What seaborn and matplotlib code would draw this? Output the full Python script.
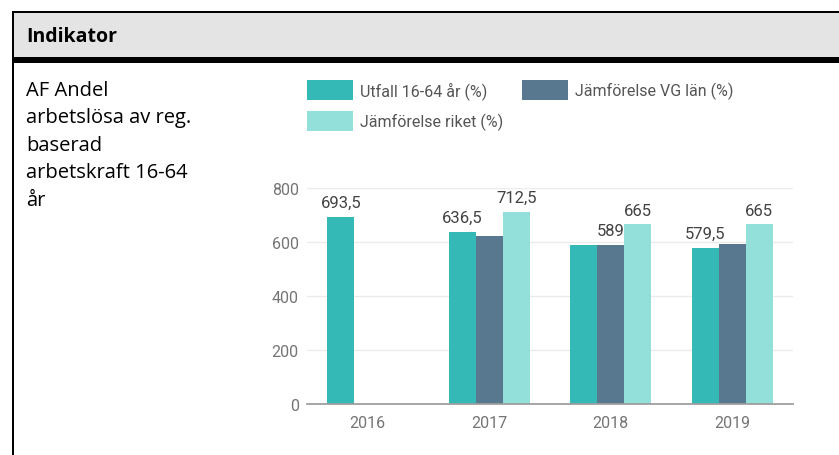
import matplotlib.pyplot as plt
import matplotlib.patches as mpatches
import pandas as pd
import seaborn as sns

years = ["2016", "2017", "2018", "2019"]
series = ["Utfall 16-64 år (%)", "Jämförelse VG län (%)", "Jämförelse riket (%)"]
utfall = [693.5, 636.5, 588, 579.5]
vg_lan = [None, 621, 589, 591]
riket = [None, 712.5, 665, 665]
# labels that are actually printed in the original (others hidden by overlap)
shown = {
    series[0]: [True, True, False, True],
    series[1]: [False, False, True, False],
    series[2]: [False, True, True, True],
}
colors = ["#34b9b7", "#57788f", "#93e0db"]
row_label = "AF Andel\narbetslösa av reg.\nbaserad\narbetskraft 16-64\når"

rows = []
for name, vals in zip(series, [utfall, vg_lan, riket]):
    for year, v in zip(years, vals):
        if v is not None:
            rows.append({"year": year, "value": v, "serie": name})
df = pd.DataFrame(rows)

sns.set_style("white")
plt.rcParams["font.family"] = ["Roboto", "DejaVu Sans"]

W, H = 839, 456
fig = plt.figure(figsize=(W / 100, H / 100), dpi=100)

# table frame around the chart
fig.patches.append(mpatches.Rectangle((12 / W, 1 - 58 / H), 1, 46 / H, transform=fig.transFigure,
                                      facecolor="#e4e4e4", edgecolor="none"))
fig.patches.append(mpatches.Rectangle((12 / W, 1 - 64 / H), 1, 6 / H, transform=fig.transFigure,
                                      facecolor="black", edgecolor="none"))
fig.patches.append(mpatches.Rectangle((12 / W, 1 - 14 / H), 1, 2 / H, transform=fig.transFigure,
                                      facecolor="black", edgecolor="none"))
fig.patches.append(mpatches.Rectangle((12 / W, 0), 2 / W, 1 - 12 / H, transform=fig.transFigure,
                                      facecolor="black", edgecolor="none"))

fig.text(26 / W, 1 - 37 / H, "Indikator", family=["Open Sans", "DejaVu Sans"], fontweight="bold",
         fontsize=14, va="center", ha="left", color="black")
fig.text(26 / W, 1 - 81 / H, row_label, family=["Open Sans", "DejaVu Sans"], fontsize=14.5,
         va="top", ha="left", color="black", linespacing=1.5)

ax = fig.add_axes([307 / W, 1 - 405 / H, 486 / W, 216 / H])
sns.barplot(data=df, x="year", y="value", hue="serie", hue_order=series, order=years,
            palette=colors, saturation=1, width=0.667, linewidth=0, edgecolor="none", ax=ax)

ax.set_ylim(0, 800)
ax.set_yticks([0, 200, 400, 600, 800])
ax.set_xlim(-0.5, 3.5)
ax.set_xlabel("")
ax.set_ylabel("")
ax.yaxis.grid(True, color="#ebebeb", linewidth=1)
ax.set_axisbelow(True)
for s in ["top", "right", "left"]:
    ax.spines[s].set_visible(False)
ax.spines["bottom"].set_color("#9e9e9e")
ax.spines["bottom"].set_linewidth(1.3)
ax.tick_params(axis="both", length=0, labelsize=11.5, labelcolor="#757575")
ax.tick_params(axis="y", pad=6)
ax.tick_params(axis="x", pad=8)


def fmt(v):
    return str(int(v)) if v == int(v) else f"{v}".replace(".", ",")


values = dict(zip(series, [utfall, vg_lan, riket]))
for name, cont in zip(series, ax.containers):
    flags = [f for f, v in zip(shown[name], values[name]) if v is not None]
    labels = [fmt(v) if f else "" for v, f in zip(cont.datavalues, flags)]
    ax.bar_label(cont, labels=labels, padding=5, fontsize=12, color="#424242")

handles = [mpatches.Patch(facecolor=c, edgecolor="none") for c in colors]
order = [0, 2, 1]
ax.get_legend().remove()
fig.legend([handles[i] for i in order], [series[i] for i in order], ncol=2,
           loc="upper left", bbox_to_anchor=(307 / W, 1 - 81 / H), frameon=False,
           fontsize=11.5, labelcolor="#555555", handlelength=2.9, handleheight=1.55,
           handletextpad=0.4, columnspacing=1.2, labelspacing=0.7, borderpad=0, borderaxespad=0)

fig.savefig("out.png", dpi=100)
